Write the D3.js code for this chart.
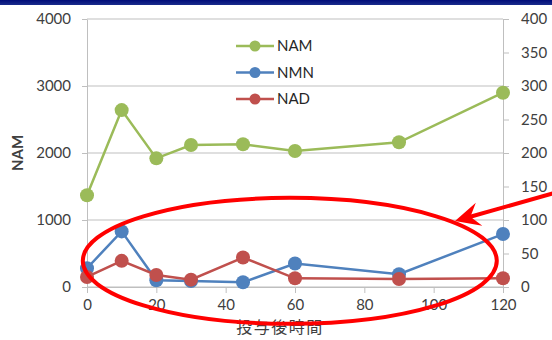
<!DOCTYPE html>
<html>
<head>
<meta charset="utf-8">
<script src="https://cdn.jsdelivr.net/npm/d3@7/dist/d3.min.js"></script>
<style>
  html, body { margin: 0; padding: 0; background: #fff; }
  svg { display: block; }
  .tick text { font-family: Lato, "Open Sans", sans-serif; font-size: 15px; fill: #404040; }
</style>
</head>
<body>
<svg id="chart" width="552" height="340"></svg>
<script>
// Sampling times after dosing and measured levels
const times = [0, 10, 20, 30, 45, 60, 90, 120];
const namValues = [1370, 2640, 1920, 2120, 2130, 2030, 2160, 2900]; // left axis
const nmnValues = [28, 83, 10, 9, 7, 35, 19, 79];                     // right axis
const nadValues = [15, 39, 18, 11, 44, 13, 12, 13];                   // right axis

const xTickValues = [0, 20, 40, 60, 80, 100, 120];
const leftTickValues = [0, 1000, 2000, 3000, 4000];
const rightTickValues = [0, 50, 100, 150, 200, 250, 300, 350, 400];

const seriesNames = ["NAM", "NMN", "NAD"];
const seriesColors = ["#9BBB59", "#4F81BD", "#C0504D"];

const svg = d3.select("#chart");
const W = 552, H = 340;
const plot = { left: 87, right: 503, top: 19, bottom: 287 };

// header band
const grad = svg.append("defs").append("linearGradient")
  .attr("id", "band").attr("x1", 0).attr("y1", 0).attr("x2", 0).attr("y2", 1);
grad.append("stop").attr("offset", "0%").attr("stop-color", "#000c78");
grad.append("stop").attr("offset", "100%").attr("stop-color", "#1a2c8c");
svg.append("rect").attr("x", 0).attr("y", 0).attr("width", W).attr("height", 5)
  .attr("fill", "url(#band)");

const x = d3.scaleLinear().domain([0, 120]).range([plot.left, plot.right]);
const yL = d3.scaleLinear().domain([0, 4000]).range([plot.bottom, plot.top]);
const yR = d3.scaleLinear().domain([0, 400]).range([plot.bottom, plot.top]);

// horizontal gridlines
svg.append("g").selectAll("line").data(leftTickValues).join("line")
  .attr("x1", plot.left).attr("x2", plot.right)
  .attr("y1", d => yL(d)).attr("y2", d => yL(d))
  .attr("stroke", "#bfbfbf").attr("stroke-width", 1);

// axes
const gridColor = "#bfbfbf";
const plain = d3.format("d");
function styleAxis(g) {
  g.select(".domain").attr("stroke", gridColor);
  g.selectAll(".tick line").attr("stroke", gridColor);
}

svg.append("g").attr("transform", `translate(0,${plot.bottom})`)
  .call(d3.axisBottom(x).tickValues(xTickValues).tickFormat(plain)
    .tickSize(6).tickPadding(6).tickSizeOuter(0))
  .call(styleAxis);

svg.append("g").attr("transform", `translate(${plot.left},0)`)
  .call(d3.axisLeft(yL).tickValues(leftTickValues).tickFormat(plain)
    .tickSize(5).tickPadding(11).tickSizeOuter(0))
  .call(styleAxis);

svg.append("g").attr("transform", `translate(${plot.right},0)`)
  .call(d3.axisRight(yR).tickValues(rightTickValues).tickFormat(plain)
    .tickSize(6).tickPadding(12).tickSizeOuter(0))
  .call(styleAxis);

// axis titles
svg.append("text")
  .attr("transform", `translate(23,${(plot.top + plot.bottom) / 2}) rotate(-90)`)
  .attr("text-anchor", "middle")
  .attr("font-family", "Lato, 'Open Sans', sans-serif")
  .attr("font-size", 15).attr("font-weight", "bold").attr("fill", "#404040")
  .text("NAM");

svg.append("text")
  .attr("x", 280).attr("y", 333)
  .attr("text-anchor", "middle")
  .attr("font-family", "'Noto Sans CJK JP', sans-serif")
  .attr("font-size", 16).attr("fill", "#404040")
  .attr("letter-spacing", 1.5)
  .text("投与後時間");

// series
const series = [
  { name: seriesNames[0], color: seriesColors[0], values: namValues, y: yL },
  { name: seriesNames[1], color: seriesColors[1], values: nmnValues, y: yR },
  { name: seriesNames[2], color: seriesColors[2], values: nadValues, y: yR }
];

series.forEach(s => {
  const pts = times.map((t, i) => [t, s.values[i]]);
  const line = d3.line().x(d => x(d[0])).y(d => s.y(d[1]));
  const g = svg.append("g");
  g.append("path").datum(pts).attr("d", line)
    .attr("fill", "none").attr("stroke", s.color).attr("stroke-width", 2.5);
  g.selectAll("circle").data(pts).join("circle")
    .attr("cx", d => x(d[0])).attr("cy", d => s.y(d[1])).attr("r", 7)
    .attr("fill", s.color);
});

// legend
const legend = svg.append("g");
series.forEach((s, i) => {
  const ly = 46 + i * 26.5;
  legend.append("line").attr("x1", 236).attr("x2", 274).attr("y1", ly).attr("y2", ly)
    .attr("stroke", s.color).attr("stroke-width", 2.5);
  legend.append("circle").attr("cx", 255).attr("cy", ly).attr("r", 5.5).attr("fill", s.color);
  legend.append("text").attr("x", 277).attr("y", ly).attr("dy", "0.36em")
    .attr("font-family", "Lato, 'Open Sans', sans-serif").attr("font-size", 15)
    .attr("fill", "#262626").text(s.name);
});

// callout: ring around the NMN / NAD traces and pointer arrow
const annot = svg.append("g");
annot.append("ellipse")
  .attr("cx", x(58.5)).attr("cy", yR(39))
  .attr("rx", 207).attr("ry", 63)
  .attr("fill", "none").attr("stroke", "#ff0000").attr("stroke-width", 4);

const tip = [455, 221], tail = [565, 190];
const dx = tail[0] - tip[0], dy = tail[1] - tip[1];
const len = Math.hypot(dx, dy);
const u = [dx / len, dy / len], n = [-u[1], u[0]];
const at = (a, b) => [tip[0] + a * u[0] + b * n[0], tip[1] + a * u[1] + b * n[1]];
annot.append("line")
  .attr("x1", at(14, 0)[0]).attr("y1", at(14, 0)[1])
  .attr("x2", tail[0]).attr("y2", tail[1])
  .attr("stroke", "#ff0000").attr("stroke-width", 4);
annot.append("path")
  .attr("d", d3.line()([tip, at(25, 12), at(16, 0), at(25, -12)]) + "Z")
  .attr("fill", "#ff0000");
</script>
</body>
</html>
